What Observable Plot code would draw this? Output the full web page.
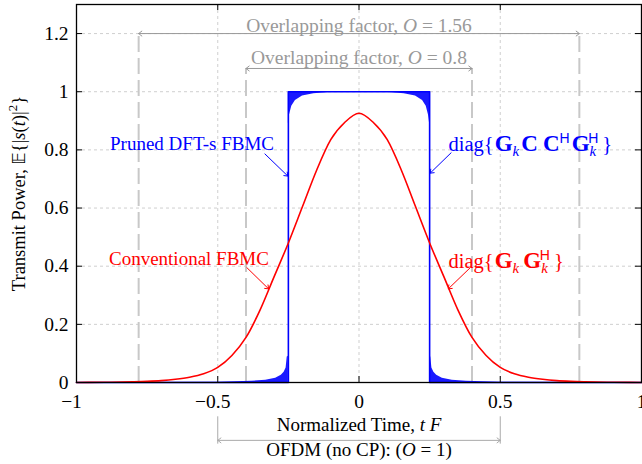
<!DOCTYPE html>
<html><head><meta charset="utf-8">
<script src="https://cdn.jsdelivr.net/npm/d3@7"></script>
<script src="https://cdn.jsdelivr.net/npm/@observablehq/plot@0.6"></script>
<style>
body{margin:0;background:#fff}
svg{font-family:"Liberation Serif","Times New Roman",serif}
</style>
</head><body><div id="chart"></div>
<script>
// ---- data ----
const xTicks = [-1, -0.5, 0, 0.5, 1];
const xTickLabels = ["−1", "−0.5", "0", "0.5", "1"];
const yTicks = [0, 0.2, 0.4, 0.6, 0.8, 1, 1.2];
const yTickLabels = ["0", "0.2", "0.4", "0.6", "0.8", "1", "1.2"];
const xGrid = [-0.5, 0, 0.5];
const yGrid = [0.2, 0.4, 0.6, 0.8, 1, 1.2];

// Conventional FBMC, diag{G_k G_k^H} (symmetric in t F)
const redT = [0, 0.05, 0.1, 0.15, 0.2, 0.25, 0.3, 0.35, 0.4, 0.45, 0.5, 0.55, 0.6, 0.65, 0.7, 0.75, 0.8, 0.9, 1.0];
const redP = [0.926, 0.895, 0.835, 0.73, 0.605, 0.48, 0.365, 0.25, 0.155, 0.093, 0.052, 0.03, 0.018, 0.011, 0.0065, 0.004, 0.0025, 0.0008, 0.0002];

// Pruned DFT-s FBMC, diag{G_k C C^H G_k^H}
const blueT = [-1, -0.25, -0.25, 0.25, 0.25, 1];
const blueP = [0, 0, 1, 1, 0, 0];
const blueEdge = 0.25;
// ripple envelope just outside the edges (distance from edge, peak)
const tailOffset = [0, 0.004, 0.008, 0.015, 0.025, 0.045, 0.08, 0.13, 0.25, 0.75];
const tailPeak = [0.09, 0.088, 0.05, 0.035, 0.025, 0.015, 0.008, 0.004, 0.001, 0];
// ripple envelope just inside the edges (distance from edge, lower bound)
const rippleOffset = [0, 0.004, 0.012, 0.025, 0.05, 0.09, 0.15, 0.25];
const rippleLow = [0.89, 0.92, 0.95, 0.97, 0.985, 0.993, 0.998, 1];

const overlapFactors = [1.56, 0.8];
const ofdmFactor = 1;

// ---- tables ----
const redData = [];
redT.forEach((t, i) => { if (t > 0) redData.push({t: -t, p: redP[i]}); redData.push({t, p: redP[i]}); });
redData.sort((a, b) => a.t - b.t);
const blueData = blueT.map((t, i) => ({t, p: blueP[i]}));
const band = [];
for (const s of [-1, 1]) {
  tailOffset.forEach((d, i) => band.push({g: "tail" + s, t: s * (blueEdge + d), lo: 0, hi: tailPeak[i]}));
  rippleOffset.forEach((d, i) => band.push({g: "rip" + s, t: s * (blueEdge - d), lo: rippleLow[i], hi: 1}));
}
band.sort((a, b) => a.t - b.t);

const blue = "#0000ff", red = "#ff0000", gray = "#999999", lightGray = "#c8c8c8";
const arrowY = [1.2, 1.08];
const overlapSegs = [];
overlapFactors.forEach((o, i) => {
  overlapSegs.push({x1: 0, x2: -o / 2, y: arrowY[i]}, {x1: 0, x2: o / 2, y: arrowY[i]});
});
const overlapRules = overlapFactors.flatMap((o, i) => [{x: -o / 2, y2: arrowY[i]}, {x: o / 2, y2: arrowY[i]}]);

// rich text parts
const P = (t, o = {}) => ({t, ...o});
const labels = {
  pruned: [P("Pruned DFT-s FBMC")],
  conv: [P("Conventional FBMC")],
  diagB: [P("diag{"), P("G", {w: "bold", fs: 23, dx: 1}), P("k", {i: 1, fs: 15, dy: 5}), P("C", {w: "bold", fs: 23, dy: -5, dx: 2}), P("C", {w: "bold", fs: 23, dx: 5}), P("H", {ff: "Liberation Sans", fs: 14, dy: -8}), P("G", {w: "bold", fs: 23, dy: 8, dx: 2}), P("k", {i: 1, fs: 15, dy: 5}), P("H", {ff: "Liberation Sans", fs: 14, dx: -8, dy: -13}), P("}", {dy: 8, dx: 4})],
  diagR: [P("diag{"), P("G", {w: "bold", fs: 23, dx: 1}), P("k", {i: 1, fs: 15, dy: 5}), P("G", {w: "bold", fs: 23, dy: -5, dx: 4}), P("k", {i: 1, fs: 15, dy: 5}), P("H", {ff: "Liberation Sans", fs: 14, dx: -8, dy: -13}), P("}", {dy: 8, dx: 4})],
  ov1: [P("Overlapping factor, "), P("O", {i: 1}), P(" = 1.56")],
  ov2: [P("Overlapping factor, "), P("O", {i: 1}), P(" = 0.8")],
  xlab: [P("Normalized Time, "), P("t", {i: 1}), P(" "), P("F", {i: 1})],
  ofdm: [P("OFDM (no CP): ("), P("O", {i: 1}), P(" = 1)")],
  ylab: [P("Transmit Power, "), P("𝔼", {ff: "DejaVu Sans", fs: 17}), P("{|"), P("s", {i: 1}), P("("), P("t", {i: 1}), P(")|"), P("2", {fs: 13, dy: -8}), P("}", {dy: 8})]
};
const plain = k => labels[k].map(p => p.t).join("");

const txt = (k, x, y, o = {}) => Plot.text([plain(k)], {x: () => x, y: () => y, text: d => d, lineAnchor: "middle", ...o});

const plot = Plot.plot({
  width: 642, height: 464,
  marginLeft: 76, marginRight: 1, marginTop: 4, marginBottom: 82,
  style: {fontFamily: "Liberation Serif", fontSize: "19px", background: "white", color: "black", overflow: "visible"},
  x: {domain: [-1, 1]},
  y: {domain: [0, 1.3]},
  marks: [
    Plot.gridX(xGrid, {stroke: "#cfcfcf", strokeOpacity: 1, strokeDasharray: "3,3"}),
    Plot.gridY(yGrid, {stroke: "#cfcfcf", strokeOpacity: 1, strokeDasharray: "3,3"}),
    Plot.ruleX(overlapRules, {x: "x", y1: 0, y2: "y2", stroke: lightGray, strokeWidth: 2, strokeDasharray: "16,6"}),
    Plot.areaY(band, {x: "t", y1: "lo", y2: "hi", z: "g", fill: blue, fillOpacity: 0.9}),
    Plot.line(blueData, {x: "t", y: "p", stroke: blue, strokeWidth: 1.6}),
    Plot.line(redData, {x: "t", y: "p", stroke: red, strokeWidth: 1.6, curve: "monotone-x"}),
    // overlapping factor arrows
    Plot.arrow(overlapSegs, {x1: "x1", x2: "x2", y1: "y", y2: "y", stroke: gray, strokeWidth: 1, headLength: 6, headAngle: 75, inset: 0}),
    // OFDM span below axis
    Plot.ruleX([-ofdmFactor / 2, ofdmFactor / 2], {x: d => d, y1: -0.118, y2: -0.212, stroke: "#aaaaaa", strokeWidth: 1}),
    Plot.arrow([-ofdmFactor / 2, ofdmFactor / 2], {x1: 0, x2: d => d, y1: -0.199, y2: -0.199, stroke: "#aaaaaa", strokeWidth: 1, headLength: 6, headAngle: 75, inset: 0}),
    // pointer arrows
    Plot.arrow([0], {x1: -0.333, y1: 0.786, x2: -0.252, y2: 0.71, stroke: blue, strokeWidth: 1, headLength: 6, headAngle: 75, inset: 0}),
    Plot.arrow([0], {x1: 0.326, y1: 0.79, x2: 0.252, y2: 0.72, stroke: blue, strokeWidth: 1, headLength: 6, headAngle: 75, inset: 0}),
    Plot.arrow([0], {x1: -0.397, y1: 0.395, x2: -0.32, y2: 0.322, stroke: red, strokeWidth: 1, headLength: 6, headAngle: 75, inset: 0}),
    Plot.arrow([0], {x1: 0.394, y1: 0.395, x2: 0.316, y2: 0.322, stroke: red, strokeWidth: 1, headLength: 6, headAngle: 75, inset: 0}),
    // texts
    txt("pruned", -0.591, 0.822, {fill: blue}),
    txt("conv", -0.602, 0.426, {fill: red}),
    txt("diagB", 0.317, 0.818, {fill: blue, textAnchor: "start", fontSize: 20.5}),
    txt("diagR", 0.317, 0.418, {fill: red, textAnchor: "start", fontSize: 20.5}),
    txt("ov1", 0, 1.228, {fill: gray, fontSize: 19.5}),
    txt("ov2", 0, 1.118, {fill: gray, fontSize: 19.5}),
    txt("xlab", 0, -0.1444, {fill: "black"}),
    txt("ofdm", 0, -0.2304, {fill: "black"}),
    txt("ylab", -1.2018, 0.65, {fill: "black", rotate: -90, fontSize: 18.5}),
    // inward ticks on all sides
    Plot.tickX(xTicks, {x: d => d, stroke: "black", insetTop: 372}),
    Plot.tickX(xTicks, {x: d => d, stroke: "black", insetBottom: 372}),
    Plot.tickY(yTicks, {y: d => d, stroke: "black", insetRight: 559}),
    Plot.tickY(yTicks, {y: d => d, stroke: "black", insetLeft: 559}),
    Plot.frame({stroke: "black", strokeWidth: 1.3}),
    Plot.axisX(xTicks, {tickSize: 0, tickPadding: 12, tickFormat: d => xTickLabels[xTicks.indexOf(d)], label: null, fontSize: 19.5}),
    Plot.axisY(yTicks, {tickSize: 0, tickPadding: 8, tickFormat: d => yTickLabels[yTicks.indexOf(d)], label: null, fontSize: 19.5})
  ]
});
document.getElementById("chart").appendChild(plot);

// rich-text formatting
for (const k of Object.keys(labels)) {
  const s = plain(k);
  d3.select(plot).selectAll("text").filter(function () { return this.textContent === s; }).each(function () {
    const t = d3.select(this); t.text(null);
    for (const p of labels[k]) {
      const sp = t.append("tspan").text(p.t);
      if (p.w) sp.attr("font-weight", p.w);
      if (p.i) sp.attr("font-style", "italic");
      if (p.fs) sp.attr("font-size", p.fs);
      if (p.ff) sp.attr("font-family", p.ff);
      if (p.dx) sp.attr("dx", p.dx);
      if (p.dy) sp.attr("dy", p.dy);
    }
  });
}
// hang the minus sign of negative tick labels to the left (digits centred on the tick)
d3.select(plot).selectAll("text").filter(function () { return /^−/.test(this.textContent) && this.textContent.length <= 4; }).attr("dx", -5);
</script>
</body></html>
